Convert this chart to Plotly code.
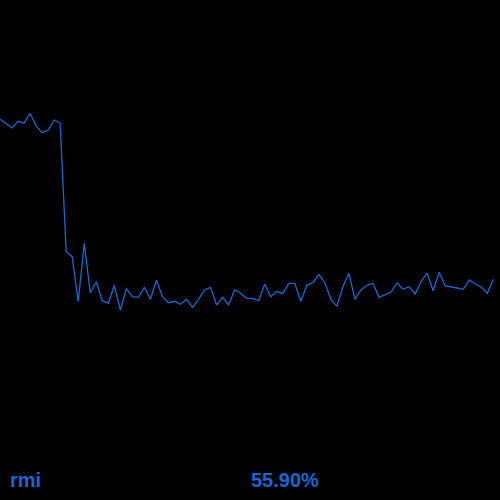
import plotly.graph_objects as go

# Sparkline values (percent)
rmi_values = [
    71.90, 71.48, 71.03, 71.70, 71.50, 72.50, 71.23, 70.56, 70.83, 71.83,
    71.50, 58.66, 58.16, 53.66, 59.50, 54.56, 55.66, 53.76, 53.50, 55.30,
    52.83, 54.96, 54.16, 54.10, 55.10, 53.90, 55.80, 54.16, 53.56, 53.70,
    53.40, 53.90, 53.10, 53.90, 54.83, 55.10, 53.33, 54.10, 53.33, 54.83,
    54.50, 54.00, 54.00, 53.76, 55.40, 54.16, 54.70, 54.46, 55.50, 55.50,
    53.70, 55.30, 55.56, 56.36, 55.56, 53.90, 53.20, 55.16, 56.50, 53.90,
    54.83, 55.30, 55.50, 54.10, 54.36, 54.63, 55.56, 54.90, 55.16, 54.43,
    55.70, 56.50, 54.76, 56.60, 55.23, 55.16, 55.03, 54.90, 55.83, 55.43,
    55.10, 54.50, 55.90,
]
sample_index = list(range(len(rmi_values)))
metric_label = "rmi"
current_value = "55.90%"

color = "#1967d2"

fig = go.Figure()
fig.add_trace(go.Scatter(
    x=sample_index, y=rmi_values, mode="lines",
    line=dict(color=color, width=1.3),
    hoverinfo="skip", showlegend=False,
))

fig.update_layout(
    width=500, height=500,
    margin=dict(l=0, r=0, t=0, b=0),
    paper_bgcolor="black", plot_bgcolor="black",
    xaxis=dict(visible=False, range=[0, 83.11], fixedrange=True),
    yaxis=dict(visible=False, range=[33.83, 83.83], fixedrange=True),
    showlegend=False,
)

fig.add_annotation(
    text=f"<b>{metric_label}</b>", xref="paper", yref="paper",
    x=0.016, y=0.04, xanchor="left", yanchor="middle", showarrow=False,
    font=dict(family="Liberation Sans, Arial, sans-serif", size=20, color=color),
)
fig.add_annotation(
    text=f"<b>{current_value}</b>", xref="paper", yref="paper",
    x=0.498, y=0.04, xanchor="left", yanchor="middle", showarrow=False,
    font=dict(family="Liberation Sans, Arial, sans-serif", size=20, color=color),
)

fig.write_html(
    "out.html",
    config={"displayModeBar": False},
    post_script="document.body.style.margin='0';document.body.style.background='black';document.body.style.overflow='hidden';",
)
